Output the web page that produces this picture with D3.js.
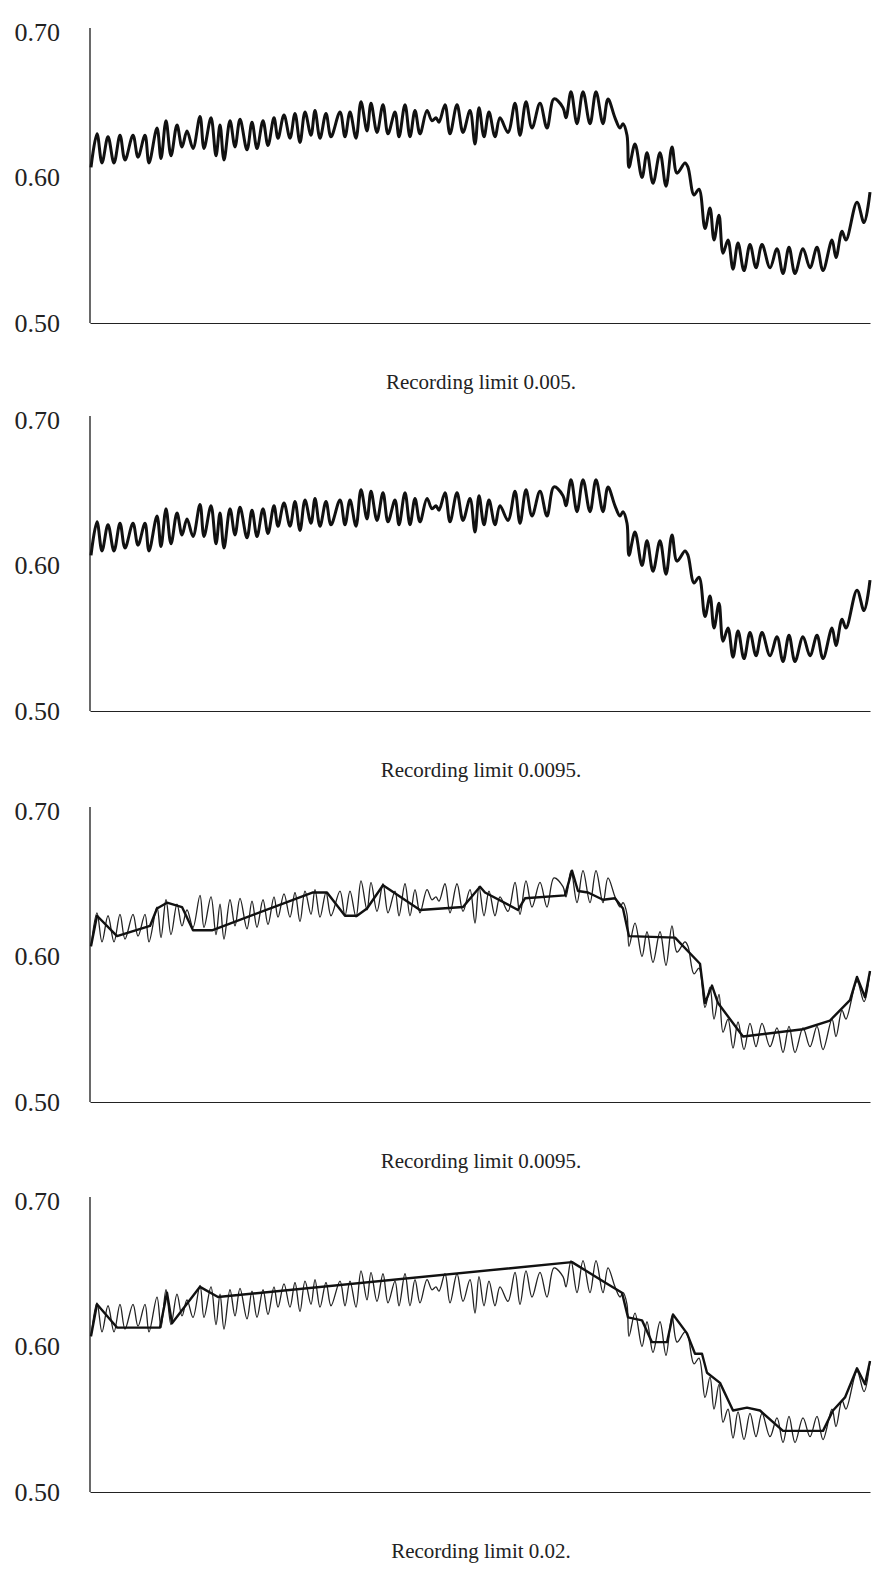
<!DOCTYPE html>
<html>
<head>
<meta charset="utf-8">
<script src="https://cdn.jsdelivr.net/npm/d3@7"></script>
<style>
  body { margin: 0; background: #fff; }
</style>
</head>
<body>
<div id="root"></div>
<script>
// y tick labels and panel captions
const yTicks = [0.50, 0.60, 0.70];
const captions = ["Recording limit 0.005.", "Recording limit 0.0095.", "Recording limit 0.0095.", "Recording limit 0.02."];

// original signal: [time, value]
const signal = [
  [1,0.607],[7,0.630],[12,0.610],[18,0.628],[24,0.610],[30,0.629],[35,0.612],[43,0.629],[48,0.614],[55,0.629],
  [59,0.610],[67,0.634],[71,0.613],[76,0.639],[81,0.615],[87,0.636],[92,0.621],[97,0.632],[103,0.620],[110,0.642],
  [114,0.620],[121,0.641],[126,0.615],[130,0.636],[134,0.612],[140,0.639],[145,0.621],[150,0.640],[157,0.619],[162,0.638],
  [167,0.620],[173,0.639],[178,0.622],[184,0.641],[188,0.627],[194,0.643],
  [200,0.627],[205,0.644],[210,0.624],[215,0.645],[221,0.629],[225,0.646],[230,0.627],[236,0.644],[241,0.628],[250,0.645],
  [255,0.628],[260,0.645],[266,0.627],[271,0.652],[277,0.632],[281,0.651],[287,0.631],[293,0.650],[298,0.630],[305,0.645],
  [309,0.628],[315,0.650],[320,0.628],[325,0.646],[330,0.630],[337,0.646],[342,0.639],[346,0.641],[349,0.638],[355,0.650],
  [360,0.630],[367,0.650],[373,0.631],[380,0.646],[385,0.623],
  [389,0.648],[394,0.628],[399,0.645],[405,0.628],[410,0.641],[418,0.631],[425,0.651],[430,0.629],[436,0.652],[442,0.634],
  [450,0.651],[457,0.634],[464,0.654],[473,0.648],[476,0.641],[481,0.659],[487,0.637],[493,0.659],[500,0.637],[506,0.659],
  [513,0.637],[518,0.654],[525,0.641],[530,0.634],[533,0.637],[537,0.629],[539,0.607],[545,0.623],[552,0.600],[557,0.617],
  [563,0.596],[570,0.617],[576,0.594],[582,0.621],
  [587,0.603],[595,0.610],[598,0.607],[604,0.588],[609,0.592],[615,0.565],[620,0.579],[624,0.557],[629,0.574],[633,0.548],
  [638,0.557],[643,0.537],[648,0.555],[654,0.536],[660,0.554],[666,0.538],[672,0.554],[680,0.538],[687,0.551],[693,0.534],
  [699,0.552],[705,0.534],[713,0.551],[720,0.538],[727,0.552],[733,0.536],[742,0.557],[746,0.545],[752,0.563],[756,0.557],
  [767,0.583],[774,0.569],[780,0.590]
];

// recorded points, limit 0.0095 (third panel)
const recorded0095 = [
  [1,0.607],[7,0.628],[27,0.614],[60,0.621],[67,0.633],[77,0.637],[92,0.634],[103,0.618],[122,0.618],[223,0.644],
  [237,0.644],[255,0.628],[267,0.628],[277,0.633],[293,0.649],[330,0.632],[373,0.634],[390,0.648],[395,0.644],[428,0.632],
  [435,0.640],[475,0.642],[482,0.659],[488,0.645],[498,0.644],[513,0.639],[525,0.640],[533,0.633],[539,0.614],[585,0.613],
  [610,0.595],[615,0.568],[622,0.580],[628,0.568],[653,0.545],[713,0.550],[740,0.556],[760,0.570],[767,0.586],[775,0.572],
  [780,0.590]
];

// recorded points, limit 0.02 (fourth panel)
const recorded002 = [
  [1,0.607],[7,0.629],[27,0.613],[70,0.613],[77,0.637],[82,0.616],[110,0.641],[128,0.634],[482,0.658],[515,0.644],
  [532,0.637],[538,0.620],[552,0.618],[562,0.603],[577,0.603],[583,0.622],[597,0.609],[605,0.595],[612,0.595],[617,0.582],
  [630,0.575],[643,0.556],[657,0.558],[670,0.556],[693,0.542],[733,0.542],[743,0.556],[755,0.565],[767,0.585],[775,0.574],
  [780,0.590]
];

const width = 888;
const height = 1573;
const margin = { left: 90, right: 19 };
const panelTops = [32, 420, 811, 1201];
const panelHeight = 291;

// thin = draw original signal underneath; bold = the heavy trace
const panels = [
  { thin: false, bold: signal, smooth: true },
  { thin: false, bold: signal, smooth: true },
  { thin: true, bold: recorded0095, smooth: false },
  { thin: true, bold: recorded002, smooth: false }
];

const x = d3.scaleLinear().domain([0, 780]).range([margin.left, width - margin.right + 1]);

const svg = d3.select("#root")
  .append("svg")
    .attr("width", width)
    .attr("height", height);

panels.forEach((p, i) => {
  const y = d3.scaleLinear().domain([0.5, 0.7]).range([panelTops[i] + panelHeight, panelTops[i]]);
  const g = svg.append("g");

  const curveLine = d3.line()
    .x(d => x(d[0]))
    .y(d => y(d[1]))
    .curve(d3.curveCatmullRom.alpha(0.5));

  const straightLine = d3.line()
    .x(d => x(d[0]))
    .y(d => y(d[1]));

  // y axis: bare line with labels, no tick marks
  const yAxis = g.append("g")
    .attr("transform", `translate(${margin.left},0)`)
    .call(d3.axisLeft(y).tickValues(yTicks).tickSize(0).tickPadding(30).tickFormat(d3.format(".2f")));
  yAxis.select(".domain").remove();
  yAxis.selectAll("text")
    .attr("font-family", "Liberation Serif, Times New Roman, serif")
    .attr("font-size", 26)
    .attr("fill", "#222");

  g.append("line")
    .attr("x1", margin.left).attr("x2", margin.left)
    .attr("y1", y(0.7) - 4).attr("y2", y(0.5))
    .attr("stroke", "#444")
    .attr("stroke-width", 1.6);

  // x axis: plain baseline
  const xAxis = g.append("g")
    .attr("transform", `translate(0,${y(0.5)})`)
    .call(d3.axisBottom(x).ticks(0).tickSize(0).tickSizeOuter(0));
  xAxis.select(".domain").attr("stroke", "#222").attr("stroke-width", 1.2);

  if (p.thin) {
    g.append("path")
      .datum(signal)
      .attr("fill", "none")
      .attr("stroke", "#222")
      .attr("stroke-width", 1.3)
      .attr("stroke-linejoin", "round")
      .attr("d", curveLine);
  }

  g.append("path")
    .datum(p.bold)
    .attr("fill", "none")
    .attr("stroke", "#111")
    .attr("stroke-width", p.thin ? 2.4 : 3)
    .attr("stroke-linejoin", "round")
    .attr("d", p.smooth ? curveLine : straightLine);

  g.append("text")
    .attr("x", 481)
    .attr("y", y(0.5) + 66)
    .attr("text-anchor", "middle")
    .attr("font-family", "Liberation Serif, Times New Roman, serif")
    .attr("font-size", 21)
    .attr("fill", "#222")
    .text(captions[i]);
});
</script>
</body>
</html>
